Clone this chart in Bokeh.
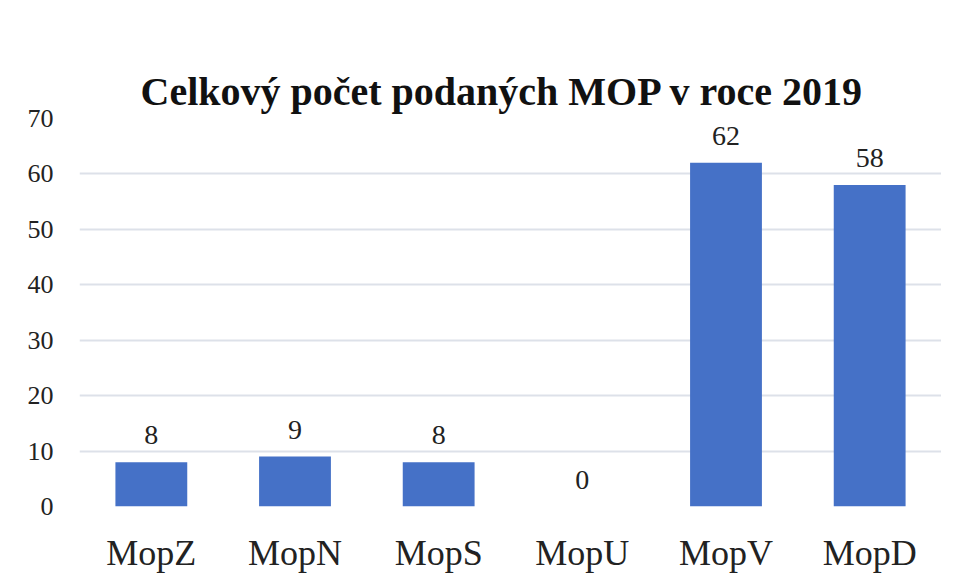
from bokeh.plotting import figure
from bokeh.models import Range1d, FactorRange, ColumnDataSource, FixedTicker
from bokeh.core.properties import value
from bokeh.embed import file_html
from bokeh.resources import INLINE

categories = ["MopZ", "MopN", "MopS", "MopU", "MopV", "MopD"]
counts = [8, 9, 8, 0, 62, 58]
y_ticks = [0, 10, 20, 30, 40, 50, 60, 70]
title_text = "Celkový počet podaných MOP v roce 2019"

src = ColumnDataSource(dict(cat=categories, val=counts, lab=[str(v) for v in counts]))

p = figure(width=941, height=575, output_backend="svg", toolbar_location=None,
           x_range=FactorRange(*categories, range_padding=0), y_range=Range1d(0, 70),
           min_border_left=79, min_border_right=0, min_border_top=118, min_border_bottom=68)

p.title.text = title_text
p.title.align = "left"
p.title.offset = 61
p.title.text_font = "Liberation Serif"
p.title.text_font_style = "bold"
p.title.text_font_size = "40px"
p.title.text_color = "#111111"

p.vbar(x="cat", top="val", width=0.5, source=src, fill_color="#4571c7", line_color=None)

p.text(x="cat", y="val", text="lab", source=src, text_align="center", text_baseline="middle",
       y_offset=-27, text_font=value("Liberation Serif"), text_font_size="28px", text_color="#222222")

p.outline_line_color = None
p.xgrid.grid_line_color = None
p.ygrid.grid_line_color = "#dde1e9"
p.ygrid.grid_line_width = 2
p.yaxis.ticker = FixedTicker(ticks=y_ticks)
for ax in (p.xaxis, p.yaxis):
    ax.axis_line_color = None
    ax.major_tick_line_color = None
    ax.minor_tick_line_color = None
    ax.major_label_text_font = "Liberation Serif"
    ax.major_label_text_color = "#222222"
p.yaxis.major_label_text_font_size = "26px"
p.yaxis.major_label_standoff = 20
p.xaxis.major_label_text_font_size = "36px"
p.xaxis.major_label_standoff = 20

open("out.html", "w").write(file_html(p, INLINE))
